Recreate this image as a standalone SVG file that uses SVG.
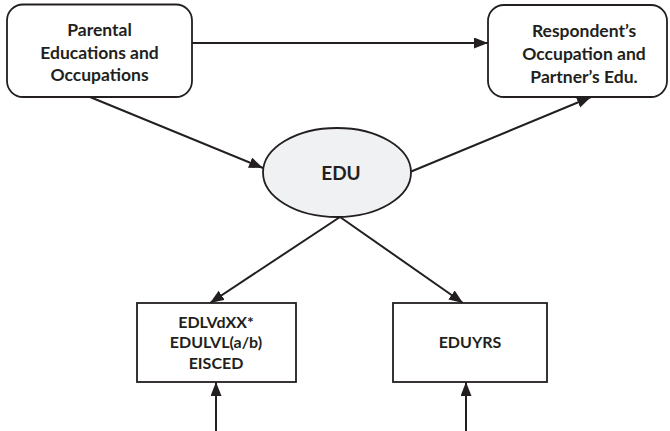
<svg xmlns="http://www.w3.org/2000/svg" width="670" height="431" viewBox="0 0 670 431">
  <style>
    .box { fill: #ffffff; stroke: #231f20; stroke-width: 1.8; }
    .oval { fill: #f0f1f3; stroke: #231f20; stroke-width: 1.8; }
    .lbl { font-family: Lato, "Open Sans", "Liberation Sans", sans-serif; font-weight: bold; fill: #231f20; text-anchor: middle; }
    .big { font-size: 17.5px; }
    .small { font-size: 16px; }
    .edu { font-size: 19px; }
    .link { stroke: #231f20; stroke-width: 2; fill: none; marker-end: url(#arrow); }
  </style>
  <defs>
    <marker id="arrow" markerUnits="userSpaceOnUse" markerWidth="15" markerHeight="12" refX="14" refY="5.5" orient="auto">
      <path d="M0,0 L14,5.5 L0,11 z" fill="#231f20"/>
    </marker>
  </defs>

  <rect width="670" height="431" fill="#ffffff"/>

  <g id="connectors">
    <line class="link" x1="192" y1="43" x2="488" y2="43"/>
    <line class="link" x1="90" y1="97" x2="263" y2="168"/>
    <line class="link" x1="410" y1="172" x2="591" y2="97"/>
    <line class="link" x1="340" y1="217" x2="210" y2="303"/>
    <line class="link" x1="340" y1="217" x2="463" y2="303"/>
    <line class="link" x1="216" y1="431" x2="216" y2="382"/>
    <line class="link" x1="466" y1="431" x2="466" y2="382"/>
  </g>

  <g id="parental">
    <rect class="box" x="7" y="4.5" width="185" height="92.5" rx="16"/>
    <text class="lbl big" x="99.5" y="36">Parental</text>
    <text class="lbl big" x="99.5" y="58.5">Educations and</text>
    <text class="lbl big" x="99.5" y="81">Occupations</text>
  </g>

  <g id="respondent">
    <rect class="box" x="488" y="5" width="179" height="92" rx="16"/>
    <text class="lbl big" x="584" y="37">Respondent’s</text>
    <text class="lbl big" x="584" y="60">Occupation and</text>
    <text class="lbl big" x="584" y="83">Partner’s Edu.</text>
  </g>

  <g id="edu">
    <ellipse class="oval" cx="337" cy="172.5" rx="74" ry="44.5"/>
    <text class="lbl edu" x="341" y="180">EDU</text>
  </g>

  <g id="edlv">
    <rect class="box" x="137" y="303" width="159" height="79"/>
    <text class="lbl small" x="216" y="327.5">EDLVdXX*</text>
    <text class="lbl small" x="216" y="348">EDULVL(a/b)</text>
    <text class="lbl small" x="216" y="368.5">EISCED</text>
  </g>

  <g id="eduyrs">
    <rect class="box" x="393" y="303" width="154" height="79"/>
    <text class="lbl small" x="470" y="347.5">EDUYRS</text>
  </g>
</svg>
